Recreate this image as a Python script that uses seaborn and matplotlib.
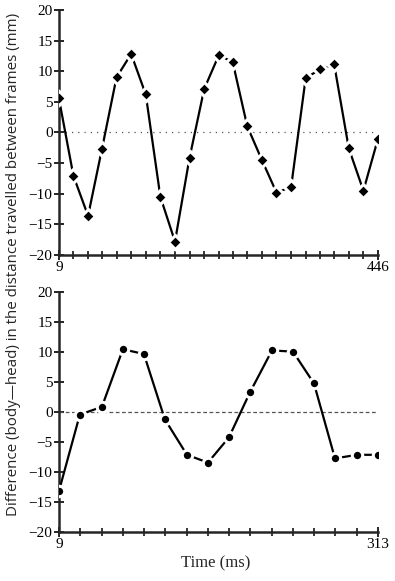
import numpy as np
import pandas as pd
import seaborn as sns
import matplotlib.pyplot as plt

# top panel: 23 frames, 9..446 ms
time_top = [9, 29, 49, 68, 88, 108, 128, 148, 168, 188, 208, 228,
            247, 267, 287, 307, 327, 347, 367, 386, 406, 426, 446]
diff_top = [5.6, -7.1, -13.6, -2.7, 9.0, 12.8, 6.2, -10.5, -17.8, -4.1, 7.1, 12.6,
            11.5, 1.0, -4.5, -9.8, -8.9, 8.9, 10.3, 11.1, -2.6, -9.5, -1.0]

# bottom panel: 16 frames, 9..313 ms
time_bot = [9, 29, 50, 70, 90, 110, 131, 151, 171, 191, 212, 232, 252, 272, 293, 313]
diff_bot = [-13.2, -0.4, 0.9, 10.5, 9.7, -1.2, -7.1, -8.4, -4.2, 3.3, 10.3, 10.1,
            4.8, -7.7, -7.1, -7.1]

y_ticks = [-20, -15, -10, -5, 0, 5, 10, 15, 20]
y_labels = ["\u221220", "\u221215", "\u221210", "\u22125", "0", "5", "10", "15", "20"]

sns.set_style("ticks")
plt.rcParams["font.family"] = ["Liberation Serif", "DejaVu Serif"]
plt.rcParams["axes.linewidth"] = 1.8

fig = plt.figure(figsize=(3.95, 5.81), dpi=100)
ax1 = fig.add_axes([0.149, 0.561, 0.808, 0.422])
ax2 = fig.add_axes([0.149, 0.084, 0.808, 0.413])


def draw_panel(ax, t, d, marker, ms, ref_style):
    df = pd.DataFrame({"t": t, "d": d})
    ax.plot([t[0], t[-1]], [0, 0], color="#555555", linestyle=ref_style,
            linewidth=0.9, zorder=1)
    sns.lineplot(data=df, x="t", y="d", ax=ax, color="black", linewidth=1.6,
                 marker=marker, markersize=ms, markerfacecolor="black",
                 markeredgecolor="white", markeredgewidth=2.2, zorder=3)
    ax.set_xlim(t[0], t[-1])
    ax.set_ylim(-20, 20)
    ax.set_yticks(y_ticks)
    ax.set_yticklabels(y_labels)
    ax.set_xticks([t[0], t[-1]])
    ax.set_xticklabels([str(t[0]), str(t[-1])])
    ax.set_xticks(t, minor=True)
    ax.tick_params(axis="both", which="major", direction="inout", length=7,
                   width=1.2, labelsize=11, pad=1, colors="black")
    ax.tick_params(axis="x", which="minor", direction="inout", length=6,
                   width=1.1, color="black")
    ax.set_xlabel("")
    ax.set_ylabel("")
    for s in ["top", "right"]:
        ax.spines[s].set_visible(False)
    ax.spines["left"].set_bounds(-20, 20)


draw_panel(ax1, time_top, diff_top, "D", 7.5, (0, (1, 4)))
draw_panel(ax2, time_bot, diff_bot, "o", 7.5, (0, (3, 2)))

fig.text(0.035, 0.544, "Difference (body\u2014head) in the distance travelled between frames (mm)",
         rotation=90, ha="center", va="center", fontsize=10.9,
         family=["Open Sans", "DejaVu Sans"])
fig.text(0.545, 0.031, "Time (ms)", ha="center", va="center", fontsize=12)

fig.savefig("out.png", dpi=100)
